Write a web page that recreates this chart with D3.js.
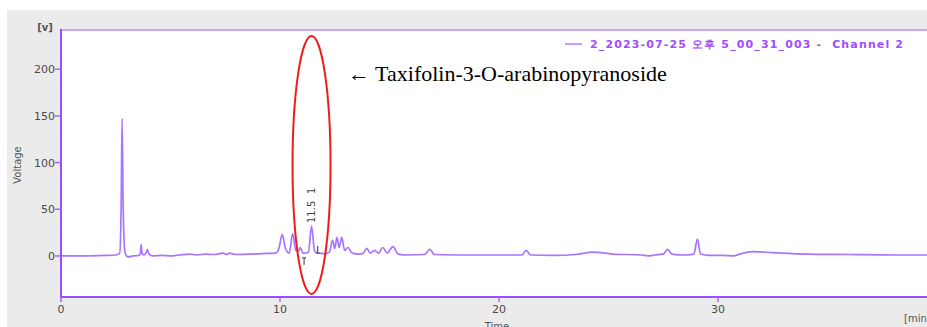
<!doctype html>
<html>
<head>
<meta charset="utf-8">
<style>
  body { margin: 0; background: #fff; }
  svg text { font-family: "DejaVu Sans", Verdana, sans-serif; }
</style>
<script src="https://d3js.org/d3.v7.min.js"></script>
</head>
<body>
<svg width="927" height="327"></svg>
<script>
// retention time (min) and detector voltage
var times = [0, 1.0, 2.0, 2.5, 2.68, 2.75, 2.79, 2.84, 2.92, 3.05, 3.3, 3.55, 3.62, 3.66, 3.70, 3.78, 3.88, 3.94, 4.02, 4.2,
  4.6, 5.0, 5.4, 5.86, 6.2, 6.6, 7.0, 7.4, 7.55, 7.7, 8.0, 8.7, 9.2, 9.8, 9.95, 10.1, 10.25, 10.42, 10.58, 10.72,
  10.85, 10.92, 11.05, 11.3, 11.44, 11.58, 11.75, 12.0, 12.25, 12.4, 12.5, 12.6, 12.7, 12.82, 12.95, 13.1, 13.3, 13.6, 13.8, 13.96,
  14.12, 14.32, 14.5, 14.69, 14.9, 15.15, 15.4, 15.8, 16.6, 16.84, 17.05, 18.0, 19.5, 20.5, 21.05, 21.24, 21.45, 22.5, 23.5, 24.3,
  25.2, 26.5, 26.8, 27.1, 27.5, 27.7, 27.9, 28.4, 28.9, 29.06, 29.2, 29.6, 30.2, 30.7, 31.0, 31.6, 32.5, 34, 36, 38, 40, 42];
var voltage = [0, 0, 0.5, 1, 3, 60, 147, 50, 4, -1, 0, 0.5, 2, 12, 3, 1, 3, 7, 2, 0,
  0.5, 0, 1, 2, 1, 2, 1.5, 3, 1.5, 3, 1.5, 2, 2.5, 3, 8, 23, 8, 3, 24, 6,
  5, 9, 3, 4, 32, 5, 3, 2.5, 4, 17, 8, 20, 9, 20, 6, 9, 3, 2, 3, 8,
  3, 6, 3, 9, 3, 10, 2, 1, 1.5, 7, 1.5, 1, 1, 1, 1, 6, 1, 0.5, 1.5, 4,
  2, 1, 0, 1, 2, 7, 2, 1, 2, 18, 2, 0.5, 0.5, 0, 2, 4.5, 3.5, 2, 1.5, 1, 1, 1];

var xTicks = [0, 10, 20, 30];
var yTicks = [0, 50, 100, 150, 200];
var markerTimes = [11.1, 11.72];   // integration start/end marks
var peakLabel = ["11.5", "1"];
var legendText = "2_2023-07-25 오후 5_00_31_003 -  Channel 2";
var noteText = "← Taxifolin-3-O-arabinopyranoside";

var svg = d3.select("svg");
var plotLeft = 61, plotTop = 30, plotBottom = 297;

var x = d3.scaleLinear().domain([0, 40]).range([plotLeft, plotLeft + 40 * 21.9]);
var y = d3.scaleLinear().domain([-44, 242]).range([plotBottom, plotTop]);

// grey frame + white plot area
svg.append("rect").attr("x", 7).attr("y", 10).attr("width", 920).attr("height", 317).attr("fill", "#ebebeb");
svg.append("rect").attr("x", plotLeft).attr("y", plotTop).attr("width", 927 - plotLeft).attr("height", plotBottom - plotTop).attr("fill", "#fff");

// trace
var pts = times.map(function(t, i) { return [t, voltage[i]]; });
var line = d3.line()
  .x(function(d) { return x(d[0]); })
  .y(function(d) { return y(d[1]); })
  .curve(d3.curveMonotoneX);

svg.append("path")
  .datum(pts)
  .attr("d", line)
  .attr("fill", "none")
  .attr("stroke", "#a775ff")
  .attr("stroke-width", 1.7)
  .attr("stroke-linejoin", "round");

// borders
svg.append("line").attr("x1", plotLeft).attr("x2", 927).attr("y1", plotTop).attr("y2", plotTop)
  .attr("stroke", "#c9a6ff").attr("stroke-width", 2);
svg.append("line").attr("x1", plotLeft).attr("x2", 927).attr("y1", plotBottom).attr("y2", plotBottom)
  .attr("stroke", "#9a4cff").attr("stroke-width", 2);
svg.append("line").attr("x1", plotLeft).attr("x2", plotLeft).attr("y1", plotTop - 1).attr("y2", plotBottom + 1)
  .attr("stroke", "#9a4cff").attr("stroke-width", 2);

// y ticks
var yt = svg.append("g");
yt.selectAll("line").data(yTicks).enter().append("line")
  .attr("x1", plotLeft - 6).attr("x2", plotLeft).attr("y1", function(d) { return y(d); }).attr("y2", function(d) { return y(d); })
  .attr("stroke", "#a866ff").attr("stroke-width", 1.5);
yt.selectAll("text").data(yTicks).enter().append("text")
  .attr("x", 55).attr("y", function(d) { return y(d) + 4; })
  .attr("text-anchor", "end").attr("font-size", 11).attr("fill", "#4a4a4a")
  .text(function(d) { return d; });

// x ticks
var xt = svg.append("g");
xt.selectAll("line").data(xTicks).enter().append("line")
  .attr("x1", function(d) { return x(d); }).attr("x2", function(d) { return x(d); })
  .attr("y1", plotBottom).attr("y2", plotBottom + 5)
  .attr("stroke", "#a866ff").attr("stroke-width", 1.5);
xt.selectAll("text").data(xTicks).enter().append("text")
  .attr("x", function(d) { return x(d); }).attr("y", 313)
  .attr("text-anchor", "middle").attr("font-size", 11).attr("fill", "#4a4a4a")
  .text(function(d) { return d; });

// axis titles
svg.append("text").attr("x", 45).attr("y", 31).attr("text-anchor", "middle")
  .attr("font-size", 10).attr("font-weight", "bold").attr("fill", "#555").text("[v]");
svg.append("text").attr("transform", "translate(21,165) rotate(-90)").attr("text-anchor", "middle")
  .attr("font-size", 10).attr("fill", "#555").text("Voltage");
svg.append("text").attr("x", 497).attr("y", 330).attr("text-anchor", "middle")
  .attr("font-size", 10).attr("fill", "#555").text("Time");
svg.append("text").attr("x", 904).attr("y", 322)
  .attr("font-size", 10).attr("fill", "#555").text("[min]");

// legend
svg.append("line").attr("x1", 565).attr("x2", 582).attr("y1", 44).attr("y2", 44)
  .attr("stroke", "#c49bff").attr("stroke-width", 2);
svg.append("text").attr("x", 590).attr("y", 48)
  .attr("font-size", 11).attr("font-weight", "bold").attr("fill", "#a24bff")
  .attr("textLength", 313).attr("lengthAdjust", "spacing")
  .style("white-space", "pre")
  .text(legendText);

// integration markers
markerTimes.forEach(function(t, i) {
  var yy = i === 0 ? y(-2) : y(3);
  var g = svg.append("g").attr("stroke", "#555").attr("stroke-width", 1.2);
  if (i === 0) {
    g.append("line").attr("x1", x(t)).attr("x2", x(t)).attr("y1", yy).attr("y2", yy + 7);
    g.append("line").attr("x1", x(t) - 2).attr("x2", x(t) + 2).attr("y1", yy).attr("y2", yy);
  } else {
    g.append("line").attr("x1", x(t)).attr("x2", x(t)).attr("y1", yy - 7).attr("y2", yy);
    g.append("line").attr("x1", x(t) - 2).attr("x2", x(t) + 2).attr("y1", yy).attr("y2", yy);
  }
});

// peak label (rotated)
svg.append("text").attr("transform", "translate(" + (x(11.44) + 3) + ",223) rotate(-90)")
  .attr("font-size", 10).attr("fill", "#444").text(peakLabel[0]);
svg.append("text").attr("transform", "translate(" + (x(11.44) + 3) + ",194) rotate(-90)")
  .attr("font-size", 10).attr("fill", "#444").text(peakLabel[1]);

// red ellipse highlight
svg.append("ellipse").attr("cx", x(11.44)).attr("cy", 165).attr("rx", 19).attr("ry", 129)
  .attr("fill", "none").attr("stroke", "#ee1c1c").attr("stroke-width", 2);

// annotation
svg.append("text").attr("x", 348).attr("y", 81)
  .style("font-family", "'Liberation Serif', 'Times New Roman', serif")
  .attr("font-size", 22).attr("fill", "#000")
  .text(noteText);
</script>
</body>
</html>
